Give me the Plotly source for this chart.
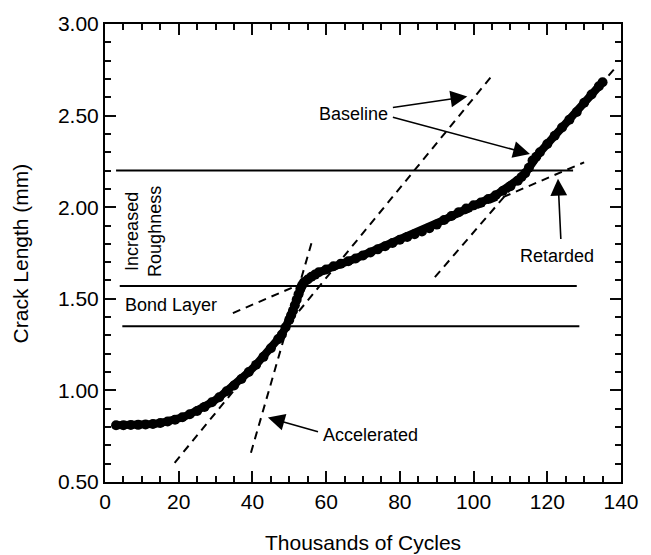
import plotly.graph_objects as go

# Crack length data (thousands of cycles, mm)
cycles = [3, 5, 7, 9, 11, 13, 15, 17, 19, 21, 23, 25, 27, 29, 31, 33, 35, 37, 39, 41,
          43, 45, 47, 48, 49, 50, 50.5, 51, 51.5, 52, 52.5, 53, 53.5, 54, 55, 56, 57, 58,
          60, 62, 64, 66, 68, 70, 72, 74, 76, 78, 80, 82, 84, 86, 88, 90, 92, 94, 96, 98,
          100, 102, 104, 106, 108, 110, 112, 113, 114, 115, 116, 117, 118, 120, 122, 124,
          126, 128, 130, 132, 134, 135]
crack = [0.810, 0.810, 0.811, 0.812, 0.814, 0.817, 0.822, 0.830, 0.840, 0.853,
         0.870, 0.888, 0.910, 0.935, 0.963, 0.995, 1.027, 1.062, 1.100, 1.140,
         1.183, 1.230, 1.280, 1.305, 1.345, 1.385, 1.410, 1.435, 1.465, 1.495,
         1.525, 1.555, 1.575, 1.590, 1.605, 1.620, 1.632, 1.645,
         1.660, 1.678, 1.692, 1.705, 1.720, 1.737, 1.753, 1.770, 1.787, 1.805,
         1.822, 1.838, 1.852, 1.868, 1.885, 1.905, 1.930, 1.952, 1.973, 1.993,
         2.010, 2.025, 2.045, 2.065, 2.090, 2.115, 2.145, 2.165, 2.185, 2.215,
         2.255, 2.275, 2.300, 2.345, 2.390, 2.435, 2.478, 2.520, 2.570, 2.615,
         2.660, 2.682]

# Layer boundary lines: (x_start, x_end, y)
boundary_x = [[3, 127], [4, 128], [4.7, 128.7]]
boundary_y = [2.20, 1.57, 1.35]

# Dashed trend lines (x pair, y pair)
accel_x, accel_y = [39.6, 56.1], [0.66, 1.81]
base1_x, base1_y = [18.9, 104.6], [0.605, 2.708]
base2_x, base2_y = [89.5, 138.9], [1.618, 2.771]
retard_x, retard_y = [34.7, 130.0], [1.422, 2.245]

x_range = [0, 140]
y_range = [0.5, 3.0]
x_tick_step, x_minor_step = 20, 5
y_tick_step, y_minor_step = 0.5, 0.1

FONT = "Liberation Sans, Arial, Helvetica, sans-serif"
INK = "#0a0a0a"
fig = go.Figure()

for bx, by in zip(boundary_x, boundary_y):
    fig.add_trace(go.Scatter(x=bx, y=[by, by], mode="lines",
                             line=dict(color="black", width=2), hoverinfo="skip"))

for lx, ly in [(accel_x, accel_y), (base1_x, base1_y), (base2_x, base2_y), (retard_x, retard_y)]:
    fig.add_trace(go.Scatter(x=lx, y=ly, mode="lines",
                             line=dict(color="black", width=2, dash="8px,6px"), hoverinfo="skip"))

fig.add_trace(go.Scatter(x=cycles, y=crack, mode="lines+markers",
                         line=dict(color="black", width=8),
                         marker=dict(color="black", size=10, symbol="circle")))

ann = []
def txt(x, y, s, xanchor="center", angle=0):
    ann.append(dict(x=x, y=y, xref="x", yref="y", text=s, showarrow=False,
                    xanchor=xanchor, yanchor="middle", textangle=angle,
                    font=dict(family=FONT, size=18, color="black")))

def arrow(x0, y0, x1, y1):
    ann.append(dict(x=x1, y=y1, ax=x0, ay=y0, xref="x", yref="y", axref="x", ayref="y",
                    text="", showarrow=True, arrowhead=2, arrowsize=2.1, arrowwidth=1.6,
                    arrowcolor="black", standoff=0, startstandoff=0))

txt(67.5, 2.51, "Baseline")
arrow(77.7, 2.543, 98.3, 2.604)
arrow(77.7, 2.493, 115.3, 2.290)
txt(122.6, 1.736, "Retarded")
arrow(123.7, 1.818, 122.9, 2.155)
txt(58.6, 0.756, "Accelerated", xanchor="left")
arrow(58.2, 0.772, 44.2, 0.852)
txt(4.8, 1.464, "Bond Layer", xanchor="left")
txt(10.4, 1.867, "Increased<br>Roughness", angle=-90)

ann.append(dict(x=0.5, y=-0.133, xref="paper", yref="paper", text="Thousands of Cycles",
                showarrow=False, xanchor="center", yanchor="middle",
                font=dict(family=FONT, size=21, color="black")))
ann.append(dict(x=-0.164, y=0.5, xref="paper", yref="paper", text="Crack Length (mm)",
                showarrow=False, xanchor="center", yanchor="middle", textangle=-90,
                font=dict(family=FONT, size=21, color="black")))

fig.update_layout(
    width=651, height=555,
    margin=dict(l=105, r=22, t=23, b=73),
    paper_bgcolor="white", plot_bgcolor="white",
    showlegend=False,
    annotations=ann,
    xaxis=dict(range=x_range, dtick=x_tick_step, ticks="inside", ticklen=11, tickwidth=2,
               tickcolor=INK, showline=True, linecolor="black", linewidth=2,
               mirror="ticks", showgrid=False, zeroline=False,
               tickfont=dict(family=FONT, size=21, color="black"),
               minor=dict(dtick=x_minor_step, ticks="inside", ticklen=6,
                          tickwidth=2, tickcolor=INK, showgrid=False)),
    yaxis=dict(range=y_range, dtick=y_tick_step, tickformat=".2f", ticks="inside",
               ticklen=11, tickwidth=2, tickcolor=INK, showline=True,
               linecolor="black", linewidth=2, mirror="ticks", showgrid=False,
               zeroline=False,
               tickfont=dict(family=FONT, size=21, color="black"),
               minor=dict(dtick=y_minor_step, ticks="inside", ticklen=6,
                          tickwidth=2, tickcolor=INK, showgrid=False)),
)

fig.write_html("out.html")
